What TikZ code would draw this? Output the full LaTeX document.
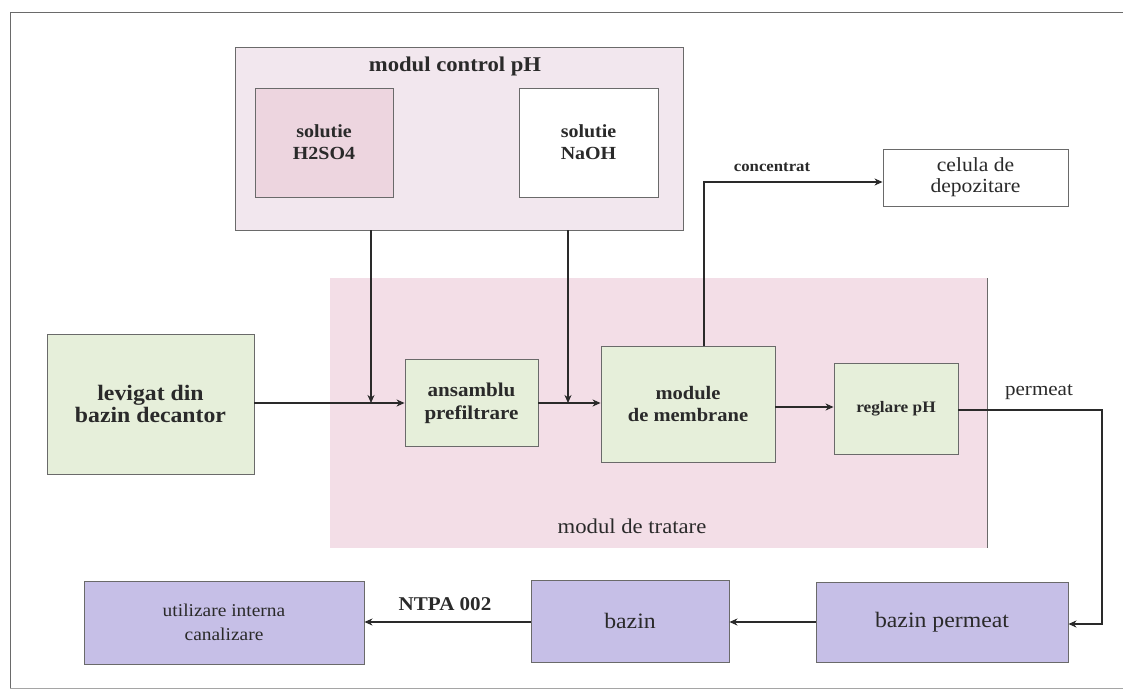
\documentclass[tikz,border=0pt]{standalone}
\usepackage{fontspec}
\setmainfont[FakeStretch=1.08]{Liberation Serif}
\usetikzlibrary{arrows.meta}
\definecolor{ctrlbg}{HTML}{F2E7EE}
\definecolor{acidbg}{HTML}{EDD5DF}
\definecolor{tratbg}{HTML}{F3DEE7}
\definecolor{greenbg}{HTML}{E6EFDA}
\definecolor{lavbg}{HTML}{C6BFE7}
\definecolor{edge}{HTML}{6A6A6A}
\definecolor{ink}{HTML}{2A2A2A}
\tikzset{
  box/.style={draw=edge, line width=0.9pt, inner sep=2pt, align=center, text=ink},
  flow/.style={draw=ink, line width=1.2pt, -{Stealth[length=8pt,width=7pt,inset=2.5pt]}},
  lbl/.style={text=ink, inner sep=0pt, align=center},
}
\begin{document}
\begin{tikzpicture}[x=1pt,y=-1pt]
\useasboundingbox (0,0) rectangle (1123,690);
% outer frame
\draw[edge, line width=1pt] (1123,13) -- (10,13) -- (10,688);
\draw[edge!60, line width=0.8pt] (10,688) -- (1123,688);

% control module
\node[box, fill=ctrlbg, minimum width=448pt, minimum height=183pt] (ctrl) at (459,139) {};
\node[lbl, font=\fontsize{21}{24}\selectfont\bfseries] (ctrlt) at (455,66) {modul control pH};
\node[box, fill=acidbg, minimum width=138pt, minimum height=109pt, font=\fontsize{18.5}{22}\selectfont\bfseries] (acid) at (324,142.5) {solutie\\H2SO4};
\node[box, fill=white, minimum width=139pt, minimum height=109pt, font=\fontsize{18.5}{22}\selectfont\bfseries] (base) at (588.5,142.5) {solutie\\NaOH};

% treatment module
\fill[tratbg] (330,278) rectangle (987,548);
\coordinate (tratTR) at (987,278);
\coordinate (tratBR) at (987,548);
\draw[edge, line width=0.9pt] (tratTR) -- (tratBR);
\node[lbl, font=\fontsize{21}{24}\selectfont] (tratt) at (632,526) {modul de tratare};

% process boxes
\node[box, fill=greenbg, minimum width=207pt, minimum height=140pt, font=\fontsize{22}{22}\selectfont\bfseries] (lev) at (150.5,404) {levigat din\\bazin decantor};
\node[box, fill=greenbg, minimum width=133pt, minimum height=87pt, font=\fontsize{19.5}{23}\selectfont\bfseries] (ans) at (471.5,403) {ansamblu\\prefiltrare};
\node[box, fill=greenbg, minimum width=174pt, minimum height=116pt, font=\fontsize{19}{22}\selectfont\bfseries] (mem) at (688,404) {module\\de membrane};
\node[box, fill=greenbg, minimum width=124pt, minimum height=91pt, font=\fontsize{16}{19}\selectfont\bfseries] (reg) at (896,408.5) {reglare pH};
\node[box, fill=white, minimum width=185pt, minimum height=57pt, font=\fontsize{20}{21}\selectfont] (cel) at (975.5,177.5) {celula de\\depozitare};

% bottom boxes
\node[box, fill=lavbg, minimum width=252pt, minimum height=80pt, font=\fontsize{22}{24}\selectfont] (bp) at (942,622) {bazin permeat};
\node[box, fill=lavbg, minimum width=198pt, minimum height=82pt, font=\fontsize{22}{24}\selectfont] (baz) at (630,621) {bazin};
\node[box, fill=lavbg, minimum width=280pt, minimum height=83pt, font=\fontsize{18}{24}\selectfont] (util) at (224,622.5) {utilizare interna\\canalizare};

% connectors
\coordinate (acidOut) at (371,230);
\coordinate (acidIn) at (371,403);
\coordinate (baseOut) at (568,230);
\coordinate (baseIn) at (568,403);
\draw[flow] (acidOut) -- (acidIn);
\draw[flow] (baseOut) -- (baseIn);
\draw[flow] (lev.east |- ans.west) -- (ans.west);
\draw[flow] (ans.east) -- (mem.west |- ans.east);
\draw[flow] (mem.east |- 0,407) -- (reg.west |- 0,407);
\coordinate (memTop) at (704,346);
\coordinate (concCorner) at (704,182);
\draw[flow] (memTop) -- (concCorner) -- (cel.west |- concCorner);
\node[lbl, font=\fontsize{15.5}{17}\selectfont\bfseries] (concl) at (772,167) {concentrat};
\coordinate (permA) at (1102,410);
\coordinate (permB) at (1102,624);
\draw[flow] (reg.east |- permA) -- (permA) -- (permB) -- (bp.east |- permB);
\node[lbl, font=\fontsize{19.5}{20}\selectfont] (perml) at (1039,392) {permeat};
\draw[flow] (bp.west |- 0,622) -- (baz.east |- 0,622);
\draw[flow] (baz.west |- 0,622) -- (util.east |- 0,622);
\node[lbl, font=\fontsize{19.5}{22}\selectfont\bfseries] (ntpa) at (445,604) {NTPA 002};
\end{tikzpicture}
\end{document}
